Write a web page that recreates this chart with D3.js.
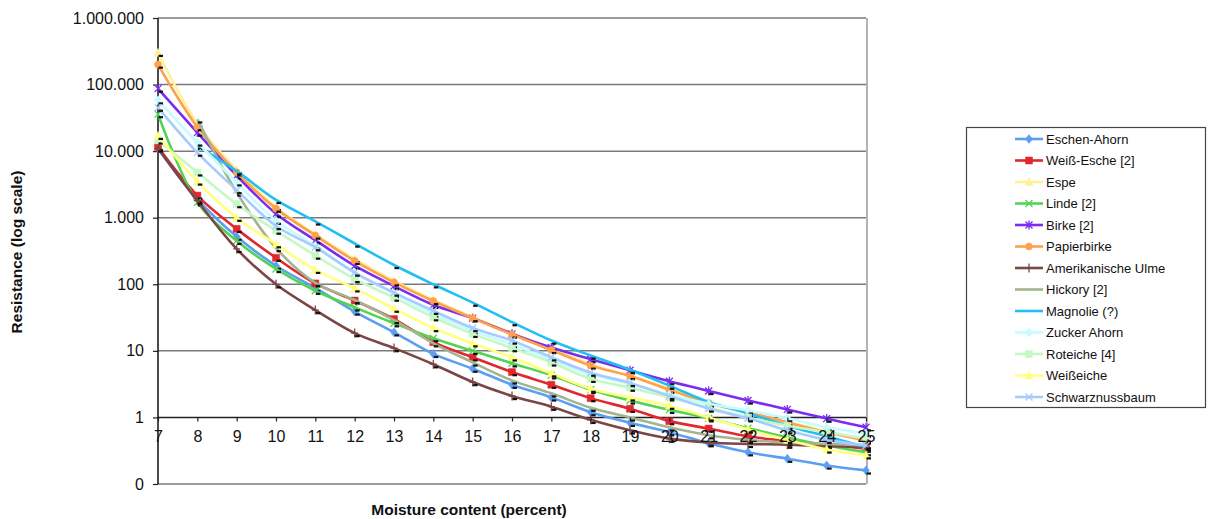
<!DOCTYPE html>
<html><head><meta charset="utf-8">
<script src="https://cdn.jsdelivr.net/npm/d3@7"></script>
<style>
body{margin:0;background:#fff;}
text{font-family:"Liberation Sans",Arial,Helvetica,sans-serif;}
</style></head>
<body><svg id="c" width="1209" height="519"></svg>
<script>
const moisture = [7,8,9,10,11,12,13,14,15,16,17,18,19,20,21,22,23,24,25];
const yTicks = [0.1,1,10,100,1000,10000,100000,1000000];

const eschenAhorn   = [11000,1900,520,190,88,39,19,9,5.4,3.1,2.0,1.2,0.83,0.6,0.41,0.3,0.24,0.19,0.16];
const weissEsche    = [11500,2150,680,250,103,57,30,13.5,8,4.8,3.1,1.95,1.35,0.88,0.68,0.52,0.44,0.39,0.34];
const espe          = [300000,26000,5200,1450,560,240,112,58,32,18.5,11,6.3,4.2,2.7,1.6,1.2,0.86,0.62,0.46];
const linde         = [36000,1700,450,170,80,45,26,15.5,10,6.5,4.3,2.6,1.8,1.3,0.97,0.69,0.5,0.38,0.30];
const birke         = [87000,19000,4300,1150,460,190,94,49,31,18,11.2,7.5,5.1,3.5,2.5,1.8,1.32,0.96,0.71];
const papierbirke   = [200000,23000,4800,1370,540,225,107,56,31,17.6,10.3,6.0,4.2,2.6,1.65,1.2,0.84,0.6,0.45];
const ulme          = [11000,1800,340,100,41,18.5,11,6.3,3.4,2.1,1.45,0.92,0.64,0.48,0.42,0.4,0.39,0.37,0.36];
const hickory       = [null,30000,2400,350,105,58,29,13,6.7,3.6,2.3,1.4,1.0,0.71,0.54,0.46,0.42,0.4,0.38];
const magnolie      = [null,12000,5000,1850,880,410,195,100,53,27,14.3,8.5,5.2,3.0,1.7,1.15,0.75,0.52,0.36];
const zuckerAhorn   = [58000,13500,3400,900,380,150,72,36,20,12.5,7.3,4.4,3.2,2.2,1.6,1.27,0.97,0.71,0.57];
const roteiche      = [14500,4800,1600,640,270,120,63,32,18,11,6.7,3.8,2.8,2.0,1.4,1.0,0.75,0.6,0.48];
const weisseiche    = [17000,3500,1000,400,165,87,43,22,13,8,4.6,2.7,2.0,1.5,1.0,0.66,0.46,0.33,0.27];
const schwarznuss   = [45000,9500,2600,750,360,150,75,40,22,14.3,8,4.7,3.3,2.1,1.36,0.97,0.64,0.46,0.38];

const seriesNames = ["Eschen-Ahorn","Weiß-Esche [2]","Espe","Linde [2]","Birke [2]","Papierbirke","Amerikanische Ulme","Hickory [2]","Magnolie (?)","Zucker Ahorn","Roteiche [4]","Weißeiche","Schwarznussbaum"];
const seriesValues = [eschenAhorn,weissEsche,espe,linde,birke,papierbirke,ulme,hickory,magnolie,zuckerAhorn,roteiche,weisseiche,schwarznuss];
const seriesColors = ["#5c9ef2","#e0282e","#fff09a","#52d452","#7a2cf2","#ffa04c","#7d4646","#a3b48f","#22bff2","#c6fbff","#c6f8c6","#ffff82","#a6cbff"];
const seriesMarkers = ["diamond","square","triangle","x","asterisk","circle","plus","none","none","diamond","square","triangle","x"];

const svg = d3.select("#c");
const x = d3.scaleLinear().domain([7,25]).range([158,866]);
const y = d3.scaleLog().domain([0.1,1000000]).range([484,18]);
const loc = d3.formatLocale({decimal:",",thousands:".",grouping:[3],currency:["","€"]});
const fmt = loc.format(",.0f");

// gridlines
svg.append("g").selectAll("line").data(yTicks).join("line")
  .attr("x1",x(7)).attr("x2",x(25)).attr("y1",d=>y(d)).attr("y2",d=>y(d))
  .attr("stroke",d=>d===1?"#222":"#7a7a7a").attr("stroke-width",1.5);
// right border
svg.append("line").attr("x1",x(25)+1).attr("x2",x(25)+1).attr("y1",y(1000000)).attr("y2",y(0.1))
  .attr("stroke","#9a9a9a").attr("stroke-width",1.5);

// y axis
const ya = svg.append("g").attr("transform",`translate(${x(7)},0)`)
  .call(d3.axisLeft(y).tickValues(yTicks).tickFormat(fmt).tickSize(5).tickPadding(9));
ya.select(".domain").remove();
ya.selectAll(".tick line").attr("stroke","#222").attr("stroke-width",1.2);
ya.selectAll("text").attr("font-size",16).attr("fill","#111").style("font-family","'Liberation Sans',Arial,sans-serif");
svg.append("line").attr("x1",x(7)).attr("x2",x(7)).attr("y1",y(1000000)).attr("y2",y(0.1)).attr("stroke","#111").attr("stroke-width",1.5);

// marker paths
function markerPath(type, s){
  const h=s/2;
  switch(type){
    case "diamond": return `M0,${-h-1}L${h},0L0,${h+1}L${-h},0Z`;
    case "square": return `M${-h},${-h}H${h}V${h}H${-h}Z`;
    case "triangle": return `M0,${-h-1}L${h+0.5},${h}L${-h-0.5},${h}Z`;
    case "circle": return d3.symbol(d3.symbolCircle, s*s*0.8)();
    case "x": return `M${-h},${-h}L${h},${h}M${-h},${h}L${h},${-h}`;
    case "asterisk": return `M${-h},${-h}L${h},${h}M${-h},${h}L${h},${-h}M0,${-h-1}V${h+1}`;
    case "plus": return `M${-h},0H${h}M0,${-h-1}V${h+1}`;
  }
  return null;
}
const filled = t => ["diamond","square","triangle","circle"].includes(t);

const line = d3.line().defined(d=>d.v!=null).x(d=>x(d.m)).y(d=>y(d.v)).curve(d3.curveCatmullRom.alpha(0.5));
const plot = svg.append("g");
seriesValues.forEach((vals,i)=>{
  const pts = moisture.map((m,j)=>({m, v: vals[j]}));
  const g = plot.append("g");
  g.append("path").datum(pts).attr("d",line).attr("fill","none")
    .attr("stroke",seriesColors[i]).attr("stroke-width",2.6).attr("stroke-linejoin","round");
  const mp = markerPath(seriesMarkers[i],7);
  const def = pts.filter(d=>d.v!=null);
  if(mp){
    g.selectAll("path.mk").data(def).join("path").attr("class","mk")
      .attr("transform",d=>`translate(${x(d.m)},${y(d.v)})`).attr("d",mp)
      .attr("fill",filled(seriesMarkers[i])?seriesColors[i]:"none")
      .attr("stroke",seriesColors[i]).attr("stroke-width",filled(seriesMarkers[i])?0.5:1.3);
  }
  // dark marker artefacts
  g.selectAll("rect.bk").data(def).join("rect").attr("class","bk")
    .attr("x",d=>x(d.m)+0.5).attr("y",d=>y(d.v)+2).attr("width",4.5).attr("height",2.2).attr("fill","#111");
});

// x axis at 1 (drawn on top of the lines)
const xa = svg.append("g").attr("transform",`translate(0,${y(1)})`)
  .call(d3.axisBottom(x).tickValues(moisture).tickFormat(d3.format("d")).tickSize(4).tickPadding(9.5));
xa.select(".domain").remove();
xa.selectAll(".tick line").attr("stroke","#222").attr("stroke-width",1.2);
xa.selectAll("text").attr("font-size",16).attr("fill","#111").style("font-family","'Liberation Sans',Arial,sans-serif");

// axis titles
svg.append("text").attr("x",469).attr("y",515).attr("text-anchor","middle")
  .attr("font-size",15.5).attr("font-weight","bold").attr("fill","#111").text("Moisture content (percent)");
svg.append("text").attr("transform","translate(22,252) rotate(-90)").attr("text-anchor","middle")
  .attr("font-size",15.5).attr("font-weight","bold").attr("fill","#111").text("Resistance (log scale)");

// legend
const lg = svg.append("g");
lg.append("rect").attr("x",966.5).attr("y",127.5).attr("width",239).attr("height",280)
  .attr("fill","#fff").attr("stroke","#444").attr("stroke-width",1.2);
seriesNames.forEach((n,i)=>{
  const cy = 139 + i*21.5;
  lg.append("line").attr("x1",1015).attr("x2",1043).attr("y1",cy).attr("y2",cy)
    .attr("stroke",seriesColors[i]).attr("stroke-width",2.6);
  const mp = markerPath(seriesMarkers[i],7);
  if(mp) lg.append("path").attr("transform",`translate(1029,${cy})`).attr("d",mp)
    .attr("fill",filled(seriesMarkers[i])?seriesColors[i]:"none")
    .attr("stroke",seriesColors[i]).attr("stroke-width",filled(seriesMarkers[i])?0.5:1.3);
  lg.append("text").attr("x",1046).attr("y",cy).attr("dy","0.36em")
    .attr("font-size",13).attr("fill","#111").text(n);
});
</script></body></html>
